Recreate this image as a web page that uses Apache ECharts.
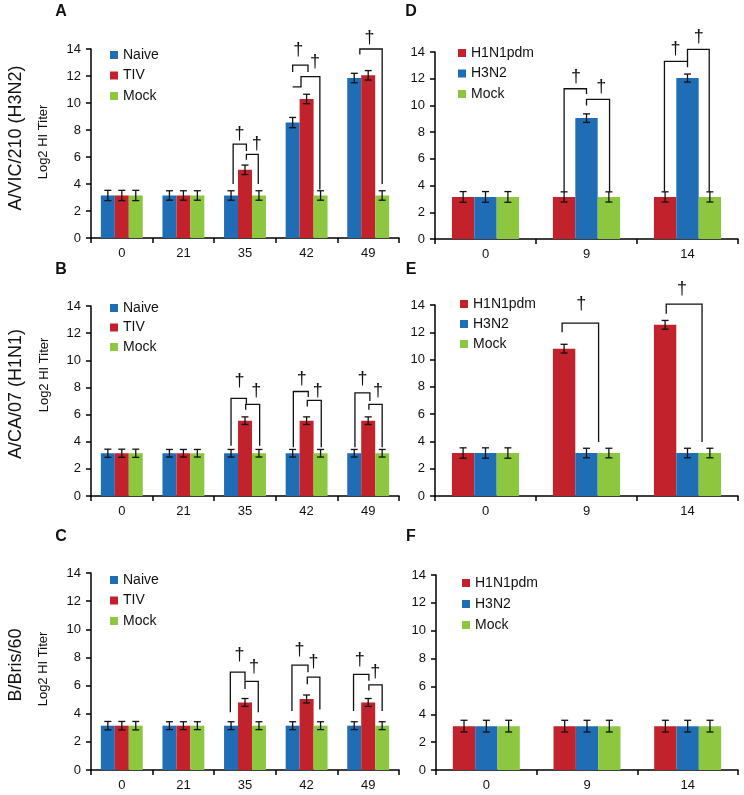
<!DOCTYPE html>
<html>
<head>
<meta charset="utf-8">
<script src="https://cdn.jsdelivr.net/npm/echarts@6/dist/echarts.min.js"></script>
<style>
html,body{margin:0;padding:0;background:#fff;}
#chart{width:744px;height:795px;}
</style>
</head>
<body>
<div id="chart"></div>
<script>
// ---------- DATA ----------
const daysLeft = ['0', '21', '35', '42', '49'];
const daysRight = ['0', '9', '14'];
const groupsLeft = ['Naive', 'TIV', 'Mock'];
const groupsRight = ['H1N1pdm', 'H3N2', 'Mock'];
const yTicks = [0, 14, 2]; // min, max, interval

// Panel A : A/VIC/210 (H3N2)
const naiveA = [3.15, 3.15, 3.15, 8.55, 11.85];
const tivA = [3.15, 3.15, 5.05, 10.3, 12.05];
const mockA = [3.15, 3.15, 3.15, 3.15, 3.15];
const naiveAErr = [0.38, 0.35, 0.35, 0.38, 0.35];
const tivAErr = [0.38, 0.35, 0.35, 0.35, 0.35];
const mockAErr = [0.38, 0.35, 0.35, 0.35, 0.35];

// Panel B : A/CA/07 (H1N1)
const naiveB = [3.15, 3.15, 3.15, 3.15, 3.15];
const tivB = [3.15, 3.15, 5.55, 5.55, 5.55];
const mockB = [3.15, 3.15, 3.15, 3.15, 3.15];
const naiveBErr = [0.3, 0.28, 0.28, 0.28, 0.28];
const tivBErr = [0.3, 0.28, 0.28, 0.28, 0.28];
const mockBErr = [0.3, 0.28, 0.28, 0.28, 0.28];

// Panel C : B/Bris/60
const naiveC = [3.15, 3.15, 3.15, 3.15, 3.15];
const tivC = [3.15, 3.15, 4.8, 5.05, 4.8];
const mockC = [3.15, 3.15, 3.15, 3.15, 3.15];
const naiveCErr = [0.3, 0.28, 0.28, 0.28, 0.28];
const tivCErr = [0.3, 0.28, 0.28, 0.28, 0.28];
const mockCErr = [0.3, 0.28, 0.28, 0.28, 0.28];

// Panel D
const h1D = [3.15, 3.15, 3.15];
const h3D = [3.15, 9.05, 12.05];
const mockD = [3.15, 3.15, 3.15];
const h1DErr = [0.4, 0.38, 0.38];
const h3DErr = [0.4, 0.32, 0.3];
const mockDErr = [0.4, 0.38, 0.38];

// Panel E
const h1E = [3.15, 10.8, 12.55];
const h3E = [3.15, 3.15, 3.15];
const mockE = [3.15, 3.15, 3.15];
const h1EErr = [0.38, 0.32, 0.32];
const h3EErr = [0.38, 0.35, 0.35];
const mockEErr = [0.38, 0.35, 0.35];

// Panel F
const h1F = [3.15, 3.15, 3.15];
const h3F = [3.15, 3.15, 3.15];
const mockF = [3.15, 3.15, 3.15];
const h1FErr = [0.42, 0.42, 0.42];
const h3FErr = [0.42, 0.42, 0.42];
const mockFErr = [0.42, 0.42, 0.42];

// Significance brackets: [categoryIndex, [[barOffset, value], ...]]
const bracketsA = [
  [2, [[-0.85, 4.0], [-0.85, 6.95], [0.1, 6.95], [0.1, 6.45]]],
  [2, [[0.1, 5.8], [0.1, 6.2], [0.95, 6.2], [0.95, 4.0]]],
  [3, [[-1.0, 12.3], [-1.0, 12.8], [0.1, 12.8], [0.1, 12.3]]],
  [3, [[-1.0, 11.2], [-0.4, 11.2], [-0.4, 11.95], [0.95, 11.95], [0.95, 3.6]]],
  [4, [[-0.6, 13.6], [-0.6, 14.0], [1.0, 14.0], [1.0, 4.0]]]
];
const daggersA = [[2, -0.4, 7.7], [2, 0.85, 6.95], [3, -0.6, 13.9], [3, 0.6, 13.0], [4, 0.1, 14.8]];

const bracketsB = [
  [2, [[-1.0, 3.7], [-1.0, 7.2], [0.1, 7.2], [0.1, 6.8]]],
  [2, [[0.05, 6.35], [0.05, 6.75], [1.05, 6.75], [1.05, 3.7]]],
  [3, [[-0.95, 3.6], [-0.95, 7.7], [0.12, 7.7], [0.12, 7.3]]],
  [3, [[0.05, 6.6], [0.05, 7.05], [1.05, 7.05], [1.05, 3.6]]],
  [4, [[-0.95, 3.6], [-0.95, 7.6], [0.12, 7.6], [0.12, 7.0]]],
  [4, [[0.05, 6.35], [0.05, 6.75], [1.0, 6.75], [1.0, 3.6]]]
];
const daggersB = [[2, -0.4, 8.45], [2, 0.8, 7.75], [3, -0.35, 8.6], [3, 0.8, 7.75], [4, -0.4, 8.6], [4, 0.7, 7.75]];

const bracketsC = [
  [2, [[-1.05, 4.1], [-1.05, 6.95], [0.0, 6.95], [0.0, 6.35]]],
  [2, [[0.0, 5.75], [0.0, 6.3], [0.95, 6.3], [0.95, 4.1]]],
  [3, [[-1.05, 4.2], [-1.05, 7.45], [0.1, 7.45], [0.1, 6.95]]],
  [3, [[0.05, 6.1], [0.05, 6.6], [0.95, 6.6], [0.95, 4.3]]],
  [4, [[-1.05, 4.2], [-1.05, 6.8], [0.05, 6.8], [0.05, 6.35]]],
  [4, [[0.05, 5.65], [0.05, 6.05], [1.0, 6.05], [1.0, 4.2]]]
];
const daggersC = [[2, -0.4, 8.15], [2, 0.65, 7.3], [3, -0.5, 8.5], [3, 0.5, 7.65], [4, -0.6, 7.8], [4, 0.5, 6.95]];

const bracketsD = [
  [1, [[-1.0, 3.55], [-1.0, 11.25], [0.0, 11.25], [0.0, 10.85]]],
  [1, [[0.0, 10.0], [0.0, 10.45], [1.03, 10.45], [1.03, 3.55]]],
  [2, [[-1.03, 3.55], [-1.03, 13.3], [0.0, 13.3], [0.0, 12.85]]],
  [2, [[0.0, 13.3], [0.0, 14.2], [0.97, 14.2], [0.97, 3.55]]]
];
const daggersD = [[1, -0.47, 12.15], [1, 0.66, 11.4], [2, -0.54, 14.25], [2, 0.5, 15.1]];

const bracketsE = [
  [1, [[-1.09, 12.0], [-1.09, 12.67], [0.54, 12.67], [0.54, 3.95]]],
  [2, [[-0.95, 13.35], [-0.95, 14.07], [0.65, 14.07], [0.65, 3.95]]]
];
const daggersE = [[1, -0.23, 14.1], [2, -0.25, 15.15]];

const bracketsF = [];
const daggersF = [];

const rowTitles = ['A/VIC/210 (H3N2)', 'A/CA/07 (H1N1)', 'B/Bris/60'];
const yAxisTitle = 'Log2 HI Titer';
const panelLetters = ['A', 'B', 'C', 'D', 'E', 'F'];

// ---------- STYLE / LAYOUT ----------
const BLUE = '#1f6db5', RED = '#c1222b', GREEN = '#8dc63f';
const FONT = "'Liberation Sans', Arial, Helvetica, sans-serif";

const panels = [
  {grid: {left: 91, top: 49, width: 308, height: 189}, cats: daysLeft, names: groupsLeft, colors: [BLUE, RED, GREEN],
   vals: [naiveA, tivA, mockA], errs: [naiveAErr, tivAErr, mockAErr], gap: 0.32, brackets: bracketsA, daggers: daggersA,
   legend: {left: 110, top: 48, gap: 6.5}, letter: [61, 12]},
  {grid: {left: 91, top: 306, width: 308, height: 190}, cats: daysLeft, names: groupsLeft, colors: [BLUE, RED, GREEN],
   vals: [naiveB, tivB, mockB], errs: [naiveBErr, tivBErr, mockBErr], gap: 0.32, brackets: bracketsB, daggers: daggersB,
   legend: {left: 110, top: 301, gap: 5.5}, letter: [61, 270]},
  {grid: {left: 91, top: 573, width: 308, height: 197}, cats: daysLeft, names: groupsLeft, colors: [BLUE, RED, GREEN],
   vals: [naiveC, tivC, mockC], errs: [naiveCErr, tivCErr, mockCErr], gap: 0.32, brackets: bracketsC, daggers: daggersC,
   legend: {left: 110, top: 573, gap: 6.5}, letter: [61, 537]},
  {grid: {left: 435, top: 52, width: 303, height: 187}, cats: daysRight, names: groupsRight, colors: [RED, BLUE, GREEN],
   vals: [h1D, h3D, mockD], errs: [h1DErr, h3DErr, mockDErr], gap: 0.335, brackets: bracketsD, daggers: daggersD,
   legend: {left: 458, top: 46, gap: 6.5}, letter: [411, 12]},
  {grid: {left: 435, top: 305, width: 303, height: 191}, cats: daysRight, names: groupsRight, colors: [RED, BLUE, GREEN],
   vals: [h1E, h3E, mockE], errs: [h1EErr, h3EErr, mockEErr], gap: 0.335, brackets: bracketsE, daggers: daggersE,
   legend: {left: 460, top: 297, gap: 6}, letter: [411, 270]},
  {grid: {left: 436, top: 575, width: 302, height: 195}, cats: daysRight, names: groupsRight, colors: [RED, BLUE, GREEN],
   vals: [h1F, h3F, mockF], errs: [h1FErr, h3FErr, mockFErr], gap: 0.335, brackets: bracketsF, daggers: daggersF,
   legend: {left: 462, top: 576, gap: 7}, letter: [411, 537]}
];

const rowTitlePos = [[16, 138], [16, 394], [16, 665]];
const yTitlePos = [[43, 142], [44, 375], [43, 669]];

const grids = [], xAxes = [], yAxes = [], series = [], legends = [], graphics = [];

panels.forEach((p, i) => {
  grids.push(Object.assign({containLabel: false}, p.grid));
  xAxes.push({
    type: 'category', gridIndex: i, data: p.cats,
    axisLine: {lineStyle: {color: '#000', width: 1.5}},
    axisTick: {show: true, length: 5, lineStyle: {color: '#000', width: 1.5}},
    axisLabel: {color: '#111', fontSize: 13, fontFamily: FONT, margin: 9},
    splitLine: {show: false}
  });
  yAxes.push({
    type: 'value', gridIndex: i, min: yTicks[0], max: yTicks[1], interval: yTicks[2],
    axisLine: {show: true, lineStyle: {color: '#000', width: 1.5}},
    axisTick: {show: true, length: 5, lineStyle: {color: '#000', width: 1.5}},
    axisLabel: {color: '#111', fontSize: 13, fontFamily: FONT, margin: 10},
    splitLine: {show: false}
  });
  p.names.forEach((nm, j) => {
    series.push({
      type: 'bar', name: nm, xAxisIndex: i, yAxisIndex: i, data: p.vals[j],
      itemStyle: {color: p.colors[j]}, barGap: '0%', barCategoryGap: (p.gap * 100) + '%',
      emphasis: {disabled: true}, animation: false, z: 2
    });
  });
  // error bars
  const errData = [];
  p.vals.forEach((arr, j) => arr.forEach((v, c) => errData.push([c, v, p.errs[j][c], j])));
  const gap = p.gap;
  series.push({
    type: 'custom', xAxisIndex: i, yAxisIndex: i, data: errData, z: 5, animation: false, silent: true,
    clip: false, encode: {x: 0, y: 1},
    renderItem: function (params, api) {
      const c = api.value(0), v = api.value(1), e = api.value(2), j = api.value(3);
      const band = api.size([1, 0])[0];
      const bw = band * (1 - gap) / 3;
      const x = api.coord([c, v])[0] + (j - 1) * bw;
      const yt = api.coord([c, v + e])[1];
      const yb = api.coord([c, v - e])[1];
      const hw = 3.5;
      const ls = {stroke: '#111', lineWidth: 1.3};
      return {type: 'group', children: [
        {type: 'line', shape: {x1: x, y1: yt, x2: x, y2: yb}, style: ls},
        {type: 'line', shape: {x1: x - hw, y1: yt, x2: x + hw, y2: yt}, style: ls},
        {type: 'line', shape: {x1: x - hw, y1: yb, x2: x + hw, y2: yb}, style: ls}
      ]};
    }
  });
  // brackets
  const br = p.brackets;
  if (br.length) {
    series.push({
      type: 'custom', xAxisIndex: i, yAxisIndex: i, z: 6, animation: false, silent: true, clip: false,
      data: br.map(b => [b[0], Math.max.apply(null, b[1].map(q => q[1]))]),
      encode: {x: 0, y: 1},
      renderItem: function (params, api) {
        const b = br[params.dataIndex];
        const band = api.size([1, 0])[0];
        const bw = band * (1 - gap) / 3;
        const pts = b[1].map(q => {
          const pt = api.coord([b[0], q[1]]);
          return [pt[0] + q[0] * bw, pt[1]];
        });
        return {type: 'polyline', shape: {points: pts}, style: {stroke: '#111', lineWidth: 1.3, fill: null}};
      }
    });
    const dg = p.daggers;
    series.push({
      type: 'custom', xAxisIndex: i, yAxisIndex: i, z: 6, animation: false, silent: true, clip: false,
      data: dg.map(d => [d[0], d[2], d[1]]),
      encode: {x: 0, y: 1},
      renderItem: function (params, api) {
        const band = api.size([1, 0])[0];
        const bw = band * (1 - gap) / 3;
        const pt = api.coord([api.value(0), api.value(1)]);
        return {type: 'text', style: {text: '\u2020', x: pt[0] + api.value(2) * bw, y: pt[1],
          align: 'center', verticalAlign: 'middle', textAlign: 'center', textVerticalAlign: 'middle',
          font: '18px ' + FONT, fill: '#111'}};
      }
    });
  }
  legends.push({
    orient: 'vertical', left: p.legend.left, top: p.legend.top, padding: 0,
    itemGap: p.legend.gap, itemWidth: 8, itemHeight: 8, itemTextGap: 3, icon: 'rect',
    data: p.names.slice(), selectedMode: false,
    textStyle: {fontSize: 14, fontFamily: FONT, color: '#111'}
  });
  graphics.push({
    type: 'text', x: p.letter[0], y: p.letter[1],
    style: {text: panelLetters[i], font: 'bold 16px ' + FONT, fill: '#111',
      align: 'center', verticalAlign: 'middle', textAlign: 'center', textVerticalAlign: 'middle'}
  });
});

rowTitles.forEach((t, r) => {
  graphics.push({
    type: 'text', x: rowTitlePos[r][0], y: rowTitlePos[r][1], rotation: Math.PI / 2,
    style: {text: t, font: '18px ' + FONT, fill: '#111',
      align: 'center', verticalAlign: 'middle', textAlign: 'center', textVerticalAlign: 'middle'}
  });
  graphics.push({
    type: 'text', x: yTitlePos[r][0], y: yTitlePos[r][1], rotation: Math.PI / 2,
    style: {text: yAxisTitle, font: '13px ' + FONT, fill: '#111',
      align: 'center', verticalAlign: 'middle', textAlign: 'center', textVerticalAlign: 'middle'}
  });
});

const chart = echarts.init(document.getElementById('chart'), null, {renderer: 'canvas'});
chart.setOption({
  backgroundColor: '#fff',
  animation: false,
  grid: grids, xAxis: xAxes, yAxis: yAxes, series: series, legend: legends, graphic: graphics
});
</script>
</body>
</html>
